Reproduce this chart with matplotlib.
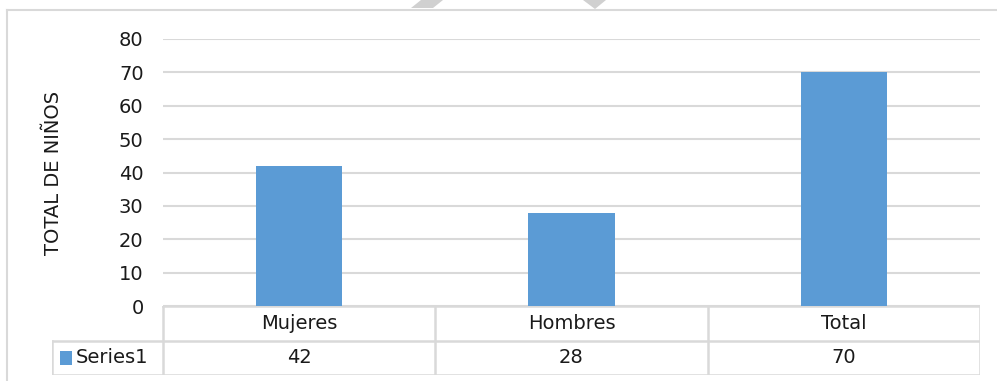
import matplotlib.pyplot as plt
from matplotlib.patches import Polygon, Rectangle
from matplotlib.lines import Line2D

# données
categories = ["Mujeres", "Hombres", "Total"]
valeurs = [42, 28, 70]
serie = "Series1"
yticks = [0, 10, 20, 30, 40, 50, 60, 70, 80]

W, H = 997, 381
bleu = "#5B9BD5"
gris = "#d9d9d9"
fs = 14
plt.rcParams["font.family"] = "DejaVu Sans"

fig = plt.figure(figsize=(W / 100, H / 100), dpi=100)

def fx(px):
    return px / W

def fy(py):
    return 1 - py / H

# cadre du graphique
fig.add_artist(Line2D([fx(7), fx(997)], [fy(10), fy(10)], color=gris, lw=1.5))
fig.add_artist(Line2D([fx(7), fx(7)], [fy(10), fy(381)], color=gris, lw=1.5))

# filigrane en haut
fig.add_artist(Polygon([(fx(411), fy(8)), (fx(433), fy(8)), (fx(443), fy(0)), (fx(421), fy(0))],
                       closed=True, color="#d0d0d0", lw=0))
fig.add_artist(Polygon([(fx(583), fy(0)), (fx(606), fy(0)), (fx(595), fy(9))],
                       closed=True, color="#d0d0d0", lw=0))

# zone de tracé
ax = fig.add_axes([fx(163), fy(306), fx(980) - fx(163), fy(39) - fy(306)])
x = range(len(categories))
ax.bar(x, valeurs, width=0.316, color=bleu, zorder=3)
ax.set_xlim(-0.5, len(categories) - 0.5)
ax.set_ylim(0, 80)
ax.set_yticks(yticks)
ax.set_yticklabels([str(t) for t in yticks], fontsize=fs, color="#1a1a1a")
ax.set_xticks([])
ax.grid(axis="y", color=gris, lw=1.5, zorder=0)
for s in ax.spines.values():
    s.set_visible(False)
ax.tick_params(axis="y", length=0, pad=14)
ax.set_ylabel("TOTAL DE NIÑOS", fontsize=fs, color="#1a1a1a")
ax.yaxis.set_label_coords((63 - 163) / (980 - 163), 0.5)

# tableau de données
tab = fig.add_axes([fx(52), fy(375), fx(980) - fx(52), fy(306) - fy(375)])
tab.set_xlim(-111, 817)
tab.set_ylim(0, 2)
tab.axis("off")
col_w = 817 / len(categories)
lc = dict(color=gris, lw=1.8)
# lignes horizontales
tab.plot([0, 817], [2, 2], **lc)
tab.plot([-111, 817], [1, 1], **lc)
tab.plot([-111, 817], [0, 0], **lc)
# lignes verticales
tab.plot([-111, -111], [0, 1], **lc)
for i in range(len(categories) + 1):
    tab.plot([i * col_w, i * col_w], [0, 2], **lc)
for i, (c, v) in enumerate(zip(categories, valeurs)):
    xc = (i + 0.5) * col_w
    tab.text(xc, 1.5, c, ha="center", va="center", fontsize=fs, color="#1a1a1a")
    tab.text(xc, 0.5, str(v), ha="center", va="center", fontsize=fs, color="#1a1a1a")
tab.add_patch(Rectangle((-103, 0.3), 12, 0.4, color=bleu, lw=0))
tab.text(-87, 0.5, serie, ha="left", va="center", fontsize=fs, color="#1a1a1a")

fig.savefig("out.png", dpi=100)
